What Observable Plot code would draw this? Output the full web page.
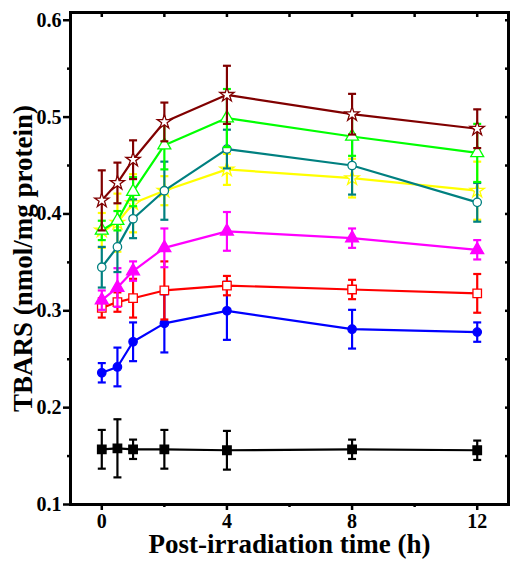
<!DOCTYPE html>
<html><head><meta charset="utf-8">
<script src="https://cdn.jsdelivr.net/npm/d3@7"></script>
<script src="https://cdn.jsdelivr.net/npm/@observablehq/plot@0.6"></script>
<style>body{margin:0;background:#fff} svg text{font-family:'Liberation Serif','Times New Roman',serif !important;font-weight:bold}</style>
</head><body><div id="chart"></div>
<script>
const times = [0, 0.5, 1, 2, 4, 8, 12];

const darkRedMean = [0.414, 0.432, 0.456, 0.495, 0.523, 0.503, 0.488];
const darkRedErr  = [0.031, 0.021, 0.020, 0.020, 0.030, 0.021, 0.020];
const greenMean   = [0.383, 0.393, 0.423, 0.471, 0.499, 0.480, 0.463];
const greenErr    = [0.010, 0.010, 0.015, 0.025, 0.030, 0.020, 0.030];
const tealMean    = [0.345, 0.366, 0.395, 0.424, 0.467, 0.450, 0.412];
const tealErr     = [0.021, 0.026, 0.020, 0.030, 0.020, 0.030, 0.020];
const yellowMean  = [0.383, 0.391, 0.411, 0.424, 0.446, 0.437, 0.424];
const yellowErr   = [0.018, 0.030, 0.030, 0.015, 0.016, 0.020, 0.030];
const magentaMean = [0.311, 0.324, 0.341, 0.365, 0.382, 0.375, 0.363];
const magentaErr  = [0.010, 0.020, 0.010, 0.020, 0.020, 0.010, 0.010];
const redMean     = [0.303, 0.309, 0.313, 0.321, 0.326, 0.322, 0.318];
const redErr      = [0.010, 0.010, 0.020, 0.030, 0.010, 0.010, 0.020];
const blueMean    = [0.236, 0.242, 0.268, 0.287, 0.300, 0.281, 0.278];
const blueErr     = [0.010, 0.020, 0.020, 0.030, 0.030, 0.020, 0.010];
const blackMean   = [0.157, 0.158, 0.157, 0.157, 0.156, 0.157, 0.156];
const blackErr    = [0.020, 0.030, 0.010, 0.020, 0.020, 0.010, 0.010];

const xMajorTicks = [0, 4, 8, 12];
const xMinorTicks = [2, 6, 10];
const yMajorTicks = [0.1, 0.2, 0.3, 0.4, 0.5, 0.6];
const yMinorTicks = [0.15, 0.25, 0.35, 0.45, 0.55];
const xLabel = "Post-irradiation time (h)";
const yLabel = "TBARS (nmol/mg protein)";

const series = [
  {name: "black",   color: "#000000", mean: blackMean,   err: blackErr,   symbol: "square",   fill: "#000000"},
  {name: "blue",    color: "#0000ff", mean: blueMean,    err: blueErr,    symbol: "circle",   fill: "#0000ff"},
  {name: "red",     color: "#ff0000", mean: redMean,     err: redErr,     symbol: "square",   fill: "#ffffff"},
  {name: "magenta", color: "#ff00ff", mean: magentaMean, err: magentaErr, symbol: "triangle", fill: "#ff00ff"},
  {name: "yellow",  color: "#ffff00", mean: yellowMean,  err: yellowErr,  symbol: "star",     fill: "#ffffff"},
  {name: "teal",    color: "#008080", mean: tealMean,    err: tealErr,    symbol: "circle",   fill: "#ffffff"},
  {name: "green",   color: "#00ff00", mean: greenMean,   err: greenErr,   symbol: "triangle", fill: "#ffffff"},
  {name: "darkred", color: "#800000", mean: darkRedMean, err: darkRedErr, symbol: "star",     fill: "#ffffff"}
];

const rows = series.flatMap((s, si) => times.map((t, i) => ({
  series: s.name, t, y: s.mean[i], lo: s.mean[i] - s.err[i], hi: s.mean[i] + s.err[i]
})));
const caps = rows.flatMap(d => [{...d, cy: d.lo}, {...d, cy: d.hi}]);

const capSymbol = {
  draw(context, size) {
    const w = Math.sqrt(size / Math.PI);
    context.moveTo(-w, 0);
    context.lineTo(w, 0);
  }
};

const symbolSize = {circle: 4.2, square: 4.8, triangle: 4.8, star: 4.5};
const marks = [];
for (const s of series) {
  const r = rows.filter(d => d.series === s.name);
  const c = caps.filter(d => d.series === s.name);
  marks.push(
    Plot.line(r, {x: "t", y: "y", stroke: s.color, strokeWidth: 2.2}),
    Plot.ruleX(r, {x: "t", y1: "lo", y2: "hi", stroke: s.color, strokeWidth: 2.2}),
    Plot.dot(c, {x: "t", y: "cy", symbol: capSymbol, r: 4, stroke: s.color, strokeWidth: 2.2}),
    Plot.dot(r, {x: "t", y: "y", symbol: s.symbol, r: symbolSize[s.symbol],
      fill: s.fill, stroke: s.color, strokeWidth: 1.3})
  );
}

const blank = () => "";
const chart = Plot.plot({
  width: 517,
  height: 565,
  marginLeft: 70,
  marginRight: 9,
  marginTop: 12,
  marginBottom: 61,
  style: "font-family: 'Liberation Serif', serif; font-weight: bold; font-size: 20px; color: #000; background: #fff;",
  x: {domain: [-1, 13]},
  y: {domain: [0.1, 0.608]},
  marks: [
    ...marks,
    Plot.frame({stroke: "#000", strokeWidth: 3}),
    Plot.axisX({anchor: "bottom", ticks: xMajorTicks, tickSize: 6, tickPadding: 3, tickFormat: d => String(d), label: null, strokeWidth: 2.5, fontSize: 20}),
    Plot.axisX({anchor: "bottom", ticks: xMinorTicks, tickSize: 3, tickFormat: blank, label: null, strokeWidth: 2.5}),
    Plot.axisX({anchor: "bottom", ticks: [], tickSize: 0, label: xLabel, labelAnchor: "center", labelOffset: 48, labelArrow: "none", fontSize: 27}),
    Plot.axisX({anchor: "top", ticks: [...xMajorTicks, ...xMinorTicks], tickSize: -4, tickFormat: blank, label: null, strokeWidth: 2.5}),
    Plot.axisY({anchor: "left", ticks: yMajorTicks, tickSize: 7, tickPadding: 2, tickFormat: d => d.toFixed(1), label: null, strokeWidth: 2.5, fontSize: 20}),
    Plot.axisY({anchor: "left", ticks: yMinorTicks, tickSize: 3, tickFormat: blank, label: null, strokeWidth: 2.5}),
    Plot.axisY({anchor: "left", ticks: [], tickSize: 0, label: yLabel, labelAnchor: "center", labelOffset: 58, labelArrow: "none", fontSize: 27}),
    Plot.axisY({anchor: "right", ticks: [...yMajorTicks, ...yMinorTicks], tickSize: -4, tickFormat: blank, label: null, strokeWidth: 2.5})
  ]
});
document.getElementById("chart").appendChild(chart);
</script>
</body></html>
